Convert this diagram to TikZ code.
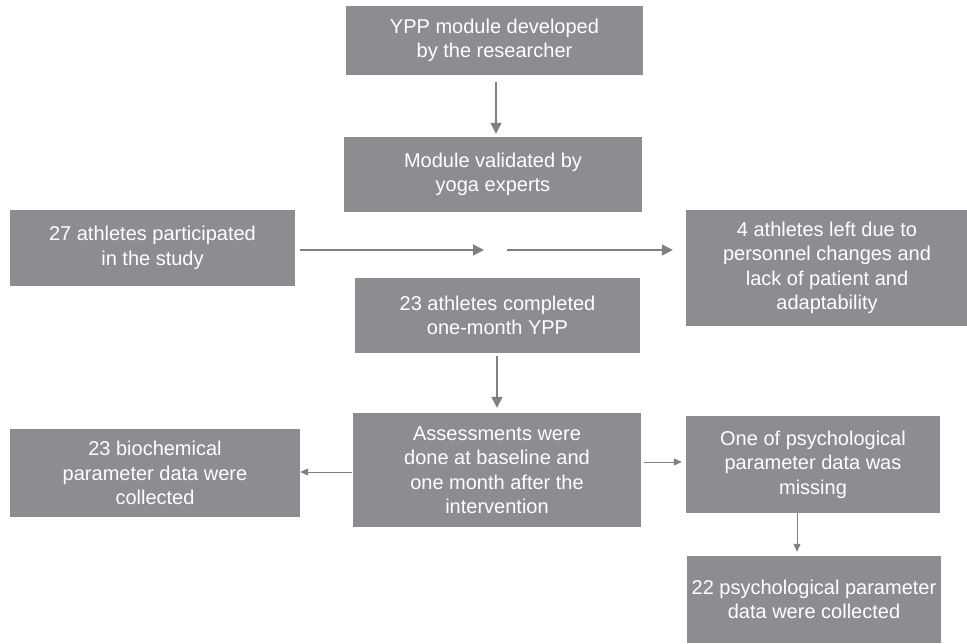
\documentclass[tikz,border=0pt]{standalone}
\usepackage{fontspec}
\setmainfont{Liberation Sans}
\usetikzlibrary{arrows.meta}
\definecolor{boxgray}{RGB}{140,141,145}
\definecolor{arrgray}{RGB}{128,128,130}
\begin{document}
\begin{tikzpicture}[x=1pt,y=-1pt,
  box/.style={fill=boxgray,draw=none,text=white,align=center,inner sep=0pt,
    font=\fontsize{20}{24.5}\selectfont},
  arrbig/.style={draw=arrgray,line width=1.4pt,-{Triangle[width=11pt,length=11pt]},arrgray},
  arrsmall/.style={draw=arrgray,line width=1pt,-{Triangle[width=7pt,length=8pt]},arrgray}]
\useasboundingbox (0,0) rectangle (967,643);
\node[box,minimum width=297pt,minimum height=69pt] (b1) at (494.5,40.5) {YPP module developed\\by the researcher};
\node[box,minimum width=298pt,minimum height=75pt] (b2) at (493,174.5) {Module validated by\\yoga experts};
\node[box,minimum width=285pt,minimum height=76pt] (b3) at (152.5,248) {27 athletes participated\\in the study};
\node[box,minimum width=282pt,minimum height=116pt] (b4) at (827,268) {4 athletes left due to\\personnel changes and\\lack of patient and\\adaptability};
\node[box,minimum width=285pt,minimum height=75pt] (b5) at (497.5,315.5) {23 athletes completed\\one-month YPP};
\node[box,minimum width=288pt,minimum height=114pt] (b6) at (497,470) {Assessments were\\done at baseline and\\one month after the\\intervention};
\node[box,minimum width=290pt,minimum height=88pt] (b7) at (155,473) {23 biochemical\\parameter data were\\collected};
\node[box,minimum width=254pt,minimum height=97pt] (b8) at (813,464.5) {One of psychological\\parameter data was\\missing};
\node[box,minimum width=254pt,minimum height=87pt] (b9) at (814,599.5) {22 psychological parameter\\data were collected};
\coordinate (m1) at (484,250);
\coordinate (m2) at (507,250);
\coordinate (c1) at (496,0);
\coordinate (c2) at (497,0);
\coordinate (c3) at (0,472);
\coordinate (c4) at (0,462);
\coordinate (c5) at (797,0);
\draw[arrbig,shorten <=7pt,shorten >=3pt] (b1.south -| c1) -- (b2.north -| c1);
\draw[arrbig,shorten <=5pt] (b3.east |- m1) -- (m1);
\draw[arrbig,shorten >=13pt] (m2) -- (b4.west |- m2);
\draw[arrbig,shorten <=3pt,shorten >=5pt] (b5.south -| c2) -- (b6.north -| c2);
\draw[arrsmall,shorten <=1pt,shorten >=0pt] (b6.west |- c3) -- (b7.east |- c3);
\draw[arrsmall,shorten <=3pt,shorten >=4pt] (b6.east |- c4) -- (b8.west |- c4);
\draw[arrsmall,shorten >=4pt] (b8.south -| c5) -- (b9.north -| c5);
\end{tikzpicture}
\end{document}
